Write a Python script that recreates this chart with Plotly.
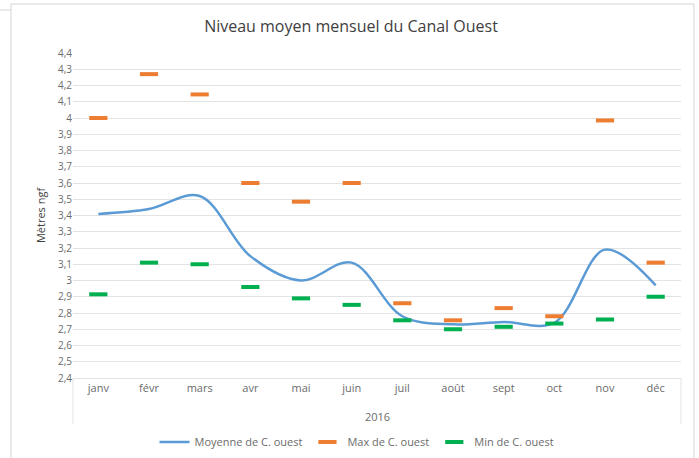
import plotly.graph_objects as go

months = ["janv", "févr", "mars", "avr", "mai", "juin", "juil", "août", "sept", "oct", "nov", "déc"]
moyenne = [3.41, 3.44, 3.52, 3.15, 3.00, 3.11, 2.78, 2.73, 2.745, 2.74, 3.19, 2.97]
maximum = [4.00, 4.27, 4.145, 3.60, 3.485, 3.60, 2.86, 2.755, 2.83, 2.78, 3.985, 3.11]
minimum = [2.915, 3.11, 3.10, 2.96, 2.89, 2.85, 2.755, 2.70, 2.715, 2.735, 2.76, 2.90]
y_ticks = [2.4, 2.5, 2.6, 2.7, 2.8, 2.9, 3.0, 3.1, 3.2, 3.3, 3.4, 3.5, 3.6, 3.7, 3.8, 3.9, 4.0, 4.1, 4.2, 4.3, 4.4]
y_ticktext = ["2,4", "2,5", "2,6", "2,7", "2,8", "2,9", "3", "3,1", "3,2", "3,3", "3,4", "3,5",
              "3,6", "3,7", "3,8", "3,9", "4", "4,1", "4,2", "4,3", "4,4"]
year_label = "2016"

FONT = "Open Sans"
GRAY = "#6b6b6b"
GRID = "#e3e3e3"

fig = go.Figure()
fig.add_trace(go.Scatter(
    x=months, y=moyenne, mode="lines", name="Moyenne de C. ouest",
    line=dict(color="#5B9BD5", width=2.5, shape="spline", smoothing=1.0),
))
fig.add_trace(go.Scatter(
    x=months, y=maximum, mode="markers", name="Max de C. ouest",
    marker=dict(symbol="line-ew", size=13, line=dict(color="#ED7D31", width=4), color="#ED7D31"),
))
fig.add_trace(go.Scatter(
    x=months, y=minimum, mode="markers", name="Min de C. ouest",
    marker=dict(symbol="line-ew", size=13, line=dict(color="#00B050", width=4), color="#00B050"),
))

L, R, T, B = 73, 18, 53, 80
W, H = 699, 458
pw, ph = W - L - R, H - T - B

def px(xp):
    return (xp - L) / pw

def py(yp):
    return (H - B - yp) / ph

shapes = [
    # chart border
    dict(type="rect", xref="paper", yref="paper", x0=px(11), x1=px(694), y0=py(470), y1=py(4),
         line=dict(color="#d4d4d4", width=1), layer="below"),
    dict(type="line", xref="paper", yref="paper", x0=px(0), x1=px(11), y0=py(10), y1=py(10),
         line=dict(color="#d4d4d4", width=1)),
    # category axis box sides
    dict(type="line", xref="paper", yref="paper", x0=0, x1=0, y0=0, y1=py(424),
         line=dict(color=GRID, width=1)),
    dict(type="line", xref="paper", yref="paper", x0=1, x1=1, y0=0, y1=py(424),
         line=dict(color=GRID, width=1)),
]

fig.update_layout(
    width=W, height=H,
    margin=dict(l=L, r=R, t=T, b=B, autoexpand=False),
    paper_bgcolor="white", plot_bgcolor="white",
    font=dict(family=FONT, color=GRAY, size=11),
    title=dict(text="Niveau moyen mensuel du Canal Ouest", x=351 / W, xanchor="center",
               y=1 - 26 / H, yanchor="middle", font=dict(size=16, color="#404040", family=FONT)),
    xaxis=dict(type="category", showgrid=False, showline=True, linecolor=GRID, linewidth=1,
               ticks="", tickfont=dict(size=11, color=GRAY), range=[-0.5, 11.5], fixedrange=True,
               automargin=False),
    yaxis=dict(range=[2.4, 4.4], tickvals=y_ticks, ticktext=y_ticktext, showgrid=True,
               gridcolor=GRID, gridwidth=1, zeroline=False, showline=False,
               tickfont=dict(size=10, color=GRAY), ticks="", automargin=False,
               title=dict(text="Mètres ngf", font=dict(size=11, color="#404040"), standoff=10)),
    showlegend=True,
    legend=dict(orientation="h", x=px(357), xanchor="center", y=py(442), yanchor="middle",
                font=dict(size=11, color=GRAY), itemwidth=30, traceorder="normal"),
    annotations=[dict(text=year_label, xref="paper", yref="paper", x=0.5, y=py(416),
                      showarrow=False, font=dict(size=11, color=GRAY), yanchor="middle")],
    shapes=shapes,
)

fig.write_html("out.html", config={"displayModeBar": False},
               post_script="document.body.style.margin='0';document.body.style.overflow='hidden';")
